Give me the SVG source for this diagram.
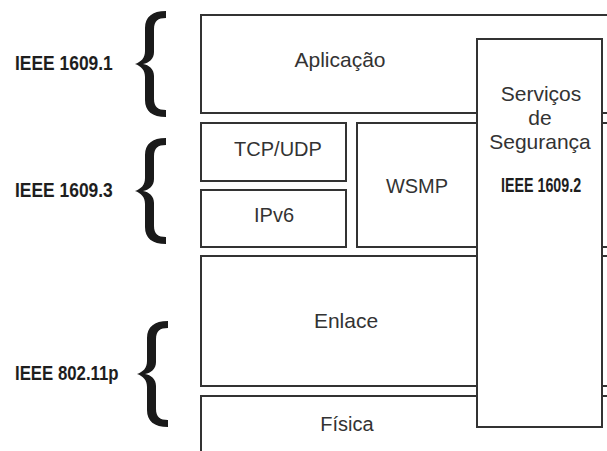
<svg xmlns="http://www.w3.org/2000/svg" width="607" height="451" viewBox="0 0 607 451">
  <style>
    .box { fill: #ffffff; stroke: #333333; stroke-width: 2; }
    .lbl { font-family: "Liberation Sans", Arial, sans-serif; font-size: 21px; fill: #333333; text-anchor: middle; }
    .std { font-family: "Liberation Sans", Arial, sans-serif; font-weight: bold; font-size: 21px; fill: #1e1e1e; }
    .brace { fill: #1a1a1a; }
  </style>
  <defs>
    <path id="brace" d="M31,-53 C17,-53 10,-47 10,-36 L10,-13 C10,-6 6,-2 0,0 C6,2 10,6 10,13 L10,36 C10,47 17,53 31,53 L31,46 C23,46 19,43 19,35 L19,12 C19,5 14,1 8,0 C14,-1 19,-5 19,-12 L19,-35 C19,-43 23,-46 31,-46 Z"/>
  </defs>
  <rect width="607" height="451" fill="#ffffff"/>

  <g id="aplicacao">
    <rect class="box" x="201" y="15" width="420" height="98"/>
    <text class="lbl" x="340" y="67">Aplicação</text>
  </g>
  <g id="tcpudp">
    <rect class="box" x="201" y="123" width="145" height="58"/>
    <text class="lbl" x="278" y="156" style="font-size:20px">TCP/UDP</text>
  </g>
  <g id="ipv6">
    <rect class="box" x="201" y="190" width="145" height="57"/>
    <text class="lbl" x="274" y="222" style="font-size:20px">IPv6</text>
  </g>
  <g id="wsmp">
    <rect class="box" x="357" y="123" width="264" height="124"/>
    <text class="lbl" x="417" y="193" style="font-size:20px">WSMP</text>
  </g>
  <g id="enlace">
    <rect class="box" x="201" y="256" width="420" height="130"/>
    <text class="lbl" x="346" y="328">Enlace</text>
  </g>
  <g id="fisica">
    <rect class="box" x="201" y="396" width="420" height="70"/>
    <text class="lbl" x="347" y="431" style="font-size:20px">Física</text>
  </g>
  <g id="seguranca">
    <rect class="box" x="477" y="39" width="125" height="388"/>
    <text class="lbl" x="541" y="101">Serviços</text>
    <text class="lbl" x="540" y="125">de</text>
    <text class="lbl" x="540" y="149">Segurança</text>
    <text class="std" transform="translate(501,192) scale(0.68,1)">IEEE 1609.2</text>
  </g>

  <g id="ieee1609-1">
    <use href="#brace" class="brace" transform="translate(135,64)"/>
    <text class="std" transform="translate(15,70) scale(0.83,1)">IEEE 1609.1</text>
  </g>
  <g id="ieee1609-3">
    <use href="#brace" class="brace" transform="translate(135,191)"/>
    <text class="std" transform="translate(15,197) scale(0.83,1)">IEEE 1609.3</text>
  </g>
  <g id="ieee802-11p">
    <use href="#brace" class="brace" transform="translate(137,374)"/>
    <text class="std" transform="translate(15,380) scale(0.8,1)">IEEE 802.11p</text>
  </g>

  <g id="connectors"></g>
</svg>
